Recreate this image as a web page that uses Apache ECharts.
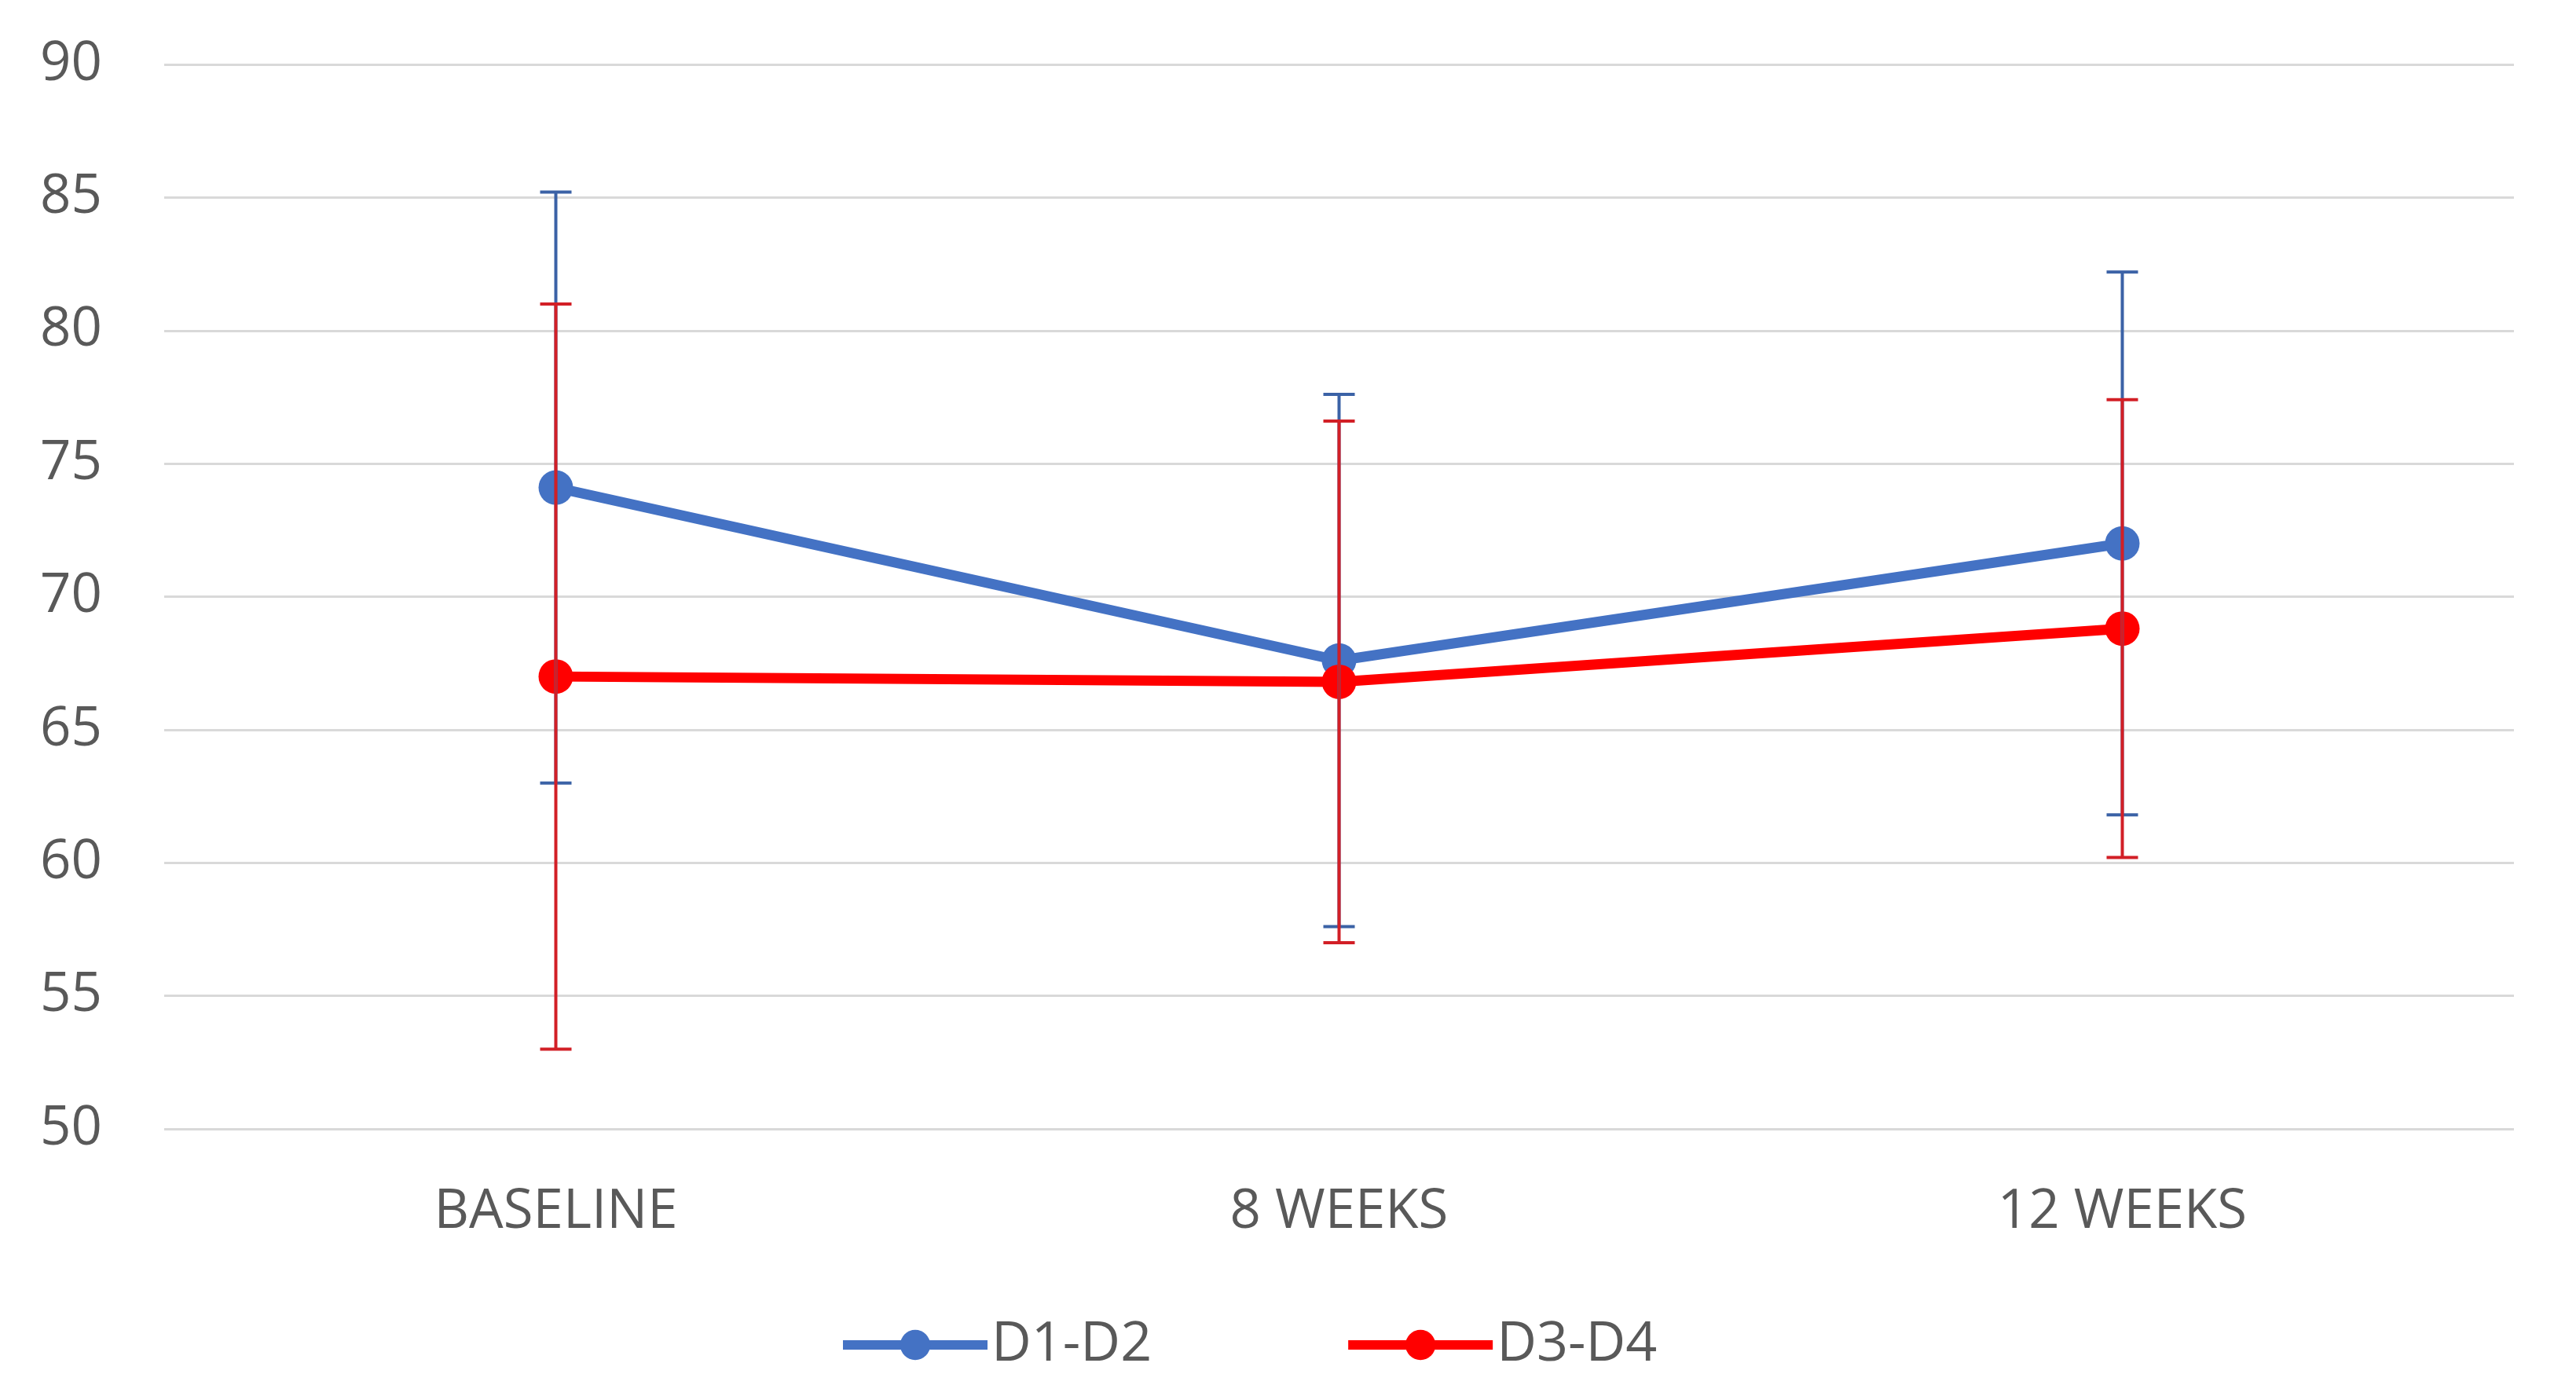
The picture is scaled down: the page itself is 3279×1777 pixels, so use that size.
<!DOCTYPE html>
<html>
<head>
<meta charset="utf-8">
<title>D1-D2 vs D3-D4</title>
<script src="https://cdn.jsdelivr.net/npm/echarts@6/dist/echarts.min.js"></script>
<style>
  html, body { margin: 0; padding: 0; background: #fff; }
  #chart { width: 3279px; height: 1777px; }
</style>
</head>
<body>
<div id="chart"></div>
<script>
const categories = ["BASELINE", "8 WEEKS", "12 WEEKS"];
const d1d2Mean = [74.1, 67.6, 72.0];
const d1d2Sd = [11.1, 10.0, 10.2];
const d3d4Mean = [67.0, 66.8, 68.8];
const d3d4Sd = [14.0, 9.8, 8.6];

const textColor = "#595959";
const fontFamily = "'Open Sans', 'Noto Sans', sans-serif";

// [index, low, high] pour chaque barre d'erreur
function errorData(mean, sd) {
  return mean.map((m, i) => [i, +(m - sd[i]).toFixed(2), +(m + sd[i]).toFixed(2)]);
}

function errorBar(color) {
  return function (params, api) {
    const i = api.value(0);
    const lo = api.coord([i, api.value(1)]);
    const hi = api.coord([i, api.value(2)]);
    const half = 20;
    const style = { stroke: color, lineWidth: 4 };
    return {
      type: "group",
      children: [
        { type: "line", shape: { x1: hi[0], y1: hi[1], x2: lo[0], y2: lo[1] }, style },
        { type: "line", shape: { x1: hi[0] - half, y1: hi[1], x2: hi[0] + half, y2: hi[1] }, style },
        { type: "line", shape: { x1: lo[0] - half, y1: lo[1], x2: lo[0] + half, y2: lo[1] }, style },
      ],
    };
  };
}

const chart = echarts.init(document.getElementById("chart"));

const option = {
  animation: false,
  backgroundColor: "#fff",
  grid: { left: 209, right: 79, top: 82, bottom: 340 },
  legend: {
    data: ["D1-D2", "D3-D4"],
    left: 1062,
    top: 1672,
    itemWidth: 184,
    itemHeight: 48,
    itemGap: 244,
    lineStyle: { width: 12 },
    textStyle: { color: textColor, fontSize: 70, fontFamily },
  },
  xAxis: {
    type: "category",
    data: categories,
    boundaryGap: true,
    axisLine: { show: false },
    axisTick: { show: false },
    axisLabel: { color: textColor, fontSize: 69, fontFamily, margin: 72 },
  },
  yAxis: {
    type: "value",
    min: 50,
    max: 90,
    interval: 5,
    axisLine: { show: false },
    axisTick: { show: false },
    axisLabel: { color: textColor, fontSize: 69, fontFamily, margin: 79 },
    splitLine: { lineStyle: { color: "#d9d9d9", width: 3 } },
  },
  series: [
    {
      name: "D1-D2",
      type: "line",
      data: d1d2Mean,
      symbol: "circle",
      symbolSize: 44,
      z: 2,
      lineStyle: { width: 13, color: "#4472c4" },
      itemStyle: { color: "#4472c4" },
    },
    {
      name: "D3-D4",
      type: "line",
      data: d3d4Mean,
      symbol: "circle",
      symbolSize: 44,
      z: 2,
      lineStyle: { width: 13, color: "#ff0000" },
      itemStyle: { color: "#ff0000" },
    },
    {
      name: "D1-D2 SD",
      type: "custom",
      data: errorData(d1d2Mean, d1d2Sd),
      renderItem: errorBar("#3b62a6"),
      encode: { x: 0, y: [1, 2] },
      z: 3,
    },
    {
      name: "D3-D4 SD",
      type: "custom",
      data: errorData(d3d4Mean, d3d4Sd),
      renderItem: errorBar("#d21f26"),
      encode: { x: 0, y: [1, 2] },
      z: 4,
    },
  ],
};

chart.setOption(option);
window.addEventListener("resize", () => chart.resize());
</script>
</body>
</html>
